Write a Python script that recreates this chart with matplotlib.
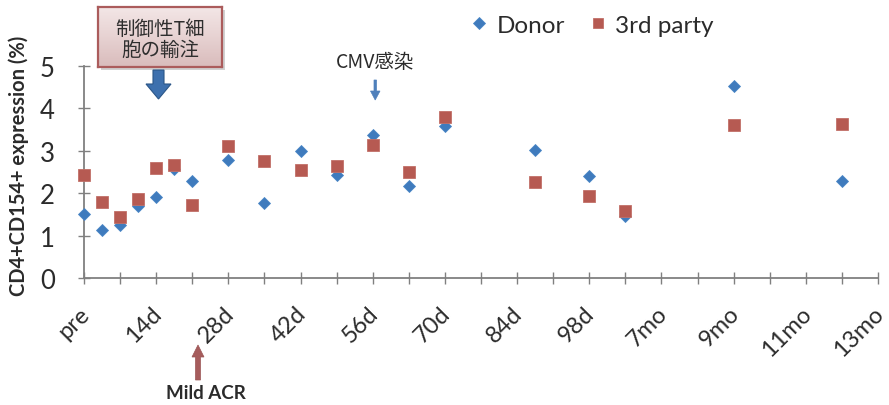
import matplotlib
matplotlib.use("Agg")
import matplotlib.pyplot as plt
import numpy as np
from matplotlib.transforms import Affine2D, ScaledTranslation
from matplotlib.patches import Polygon, Rectangle

# ---- data -------------------------------------------------------------
# time axis: one unit per week, labels on every second unit
timepoints = [0, 0.5, 1, 1.5, 2, 2.5, 3, 4, 5, 6, 7, 8, 9, 10, 12.5, 14, 15, 18, 21]
donor = [1.51, 1.14, 1.26, 1.70, 1.90, 2.57, 2.28, 2.79, 1.77, 2.99,
         2.43, 3.38, 2.16, 3.59, 3.02, 2.41, 1.46, 4.53, 2.29]
third_party = [2.43, 1.80, 1.45, 1.86, 2.59, 2.67, 1.71, 3.11, 2.75, 2.55,
               2.63, 3.14, 2.49, 3.79, 2.26, 1.93, 1.58, 3.61, 3.63]
tick_labels = ["pre", "14d", "28d", "42d", "56d", "70d", "84d", "98d",
               "7mo", "9mo", "11mo", "13mo"]
series_names = ["Donor", "3rd party"]

DONOR_C = "#3f7bbd"
THIRD_C = "#b65a52"
AXIS_C = "#808080"
TEXT_C = "#2b2b2b"
LATIN = ["Lato", "DejaVu Sans"]
CJK = ["Noto Sans CJK JP", "DejaVu Sans"]

W, H = 889, 406
fig = plt.figure(figsize=(W / 100, H / 100), dpi=100)
fig.patch.set_facecolor("white")
# pixel coordinates measured from the top-left corner of the figure
PX = Affine2D().scale(1 / W, -1 / H).translate(0, 1) + fig.transFigure

ax = fig.add_axes([84 / W, 1 - 279 / H, (878 - 84) / W, (279 - 67) / H])
ax.set_xlim(0, 22)
ax.set_ylim(0, 5)

ax.plot(timepoints, donor, linestyle="none", marker="D", ms=6.3,
        color=DONOR_C, mec="#4a86c6", mew=0.6, label=series_names[0],
        clip_on=False, zorder=3)
ax.plot(timepoints, third_party, linestyle="none", marker="s", ms=8.6,
        color=THIRD_C, mec="#c27068", mew=0.6, label=series_names[1],
        clip_on=False, zorder=4)

for side in ("top", "right"):
    ax.spines[side].set_visible(False)
for side in ("left", "bottom"):
    ax.spines[side].set_color(AXIS_C)
    ax.spines[side].set_linewidth(1.3)

ax.set_yticks(np.arange(0, 6, 1))
ax.set_xticks(np.arange(0, 23, 1))
xlabels = [""] * 23
for i, lab in enumerate(tick_labels):
    xlabels[2 * i] = lab
ax.set_xticklabels(xlabels)
ax.tick_params(axis="both", direction="inout", length=8, width=1.0,
               color=AXIS_C, labelcolor=TEXT_C)
ax.tick_params(axis="y", pad=17, labelsize=18.5)
ax.tick_params(axis="x", pad=19, labelsize=17)
for lab in ax.get_yticklabels():
    lab.set_family(LATIN)
shift_right = ScaledTranslation(2 / 100, 0, fig.dpi_scale_trans)
for lab in ax.get_xticklabels():
    lab.set_family(LATIN)
    lab.set_rotation(45)
    lab.set_ha("right")
    lab.set_va("center")
    lab.set_rotation_mode("anchor")
    lab.set_transform(lab.get_transform() + shift_right)

fig.text(19, 166, "CD4+CD154+ expression (%)", transform=PX, rotation=90,
         ha="center", va="center", fontsize=14.5, fontweight="bold",
         family=LATIN, color=TEXT_C)

leg = ax.legend(loc="center left", bbox_to_anchor=(449 / W, 1 - 26 / H),
                bbox_transform=fig.transFigure, ncol=2, frameon=False,
                handlelength=0.7, handletextpad=0.35,
                columnspacing=1.0, markerscale=0.9,
                prop={"family": LATIN, "size": 17.5})
for t in leg.get_texts():
    t.set_color(TEXT_C)

# ---- regulatory T-cell infusion box with its block arrow ----------------
fig.add_artist(Rectangle((101, 11), 124, 60, transform=PX, facecolor="#9a9a9a",
                         edgecolor="none", alpha=0.45, zorder=5))
box_ax = fig.add_axes([98 / W, 1 - 68 / H, 124 / W, 60 / H], zorder=6)
grad = np.linspace(0, 1, 64)[:, None]
box_cmap = matplotlib.colors.LinearSegmentedColormap.from_list(
    "boxfill", ["#f3e6e6", "#e7d2d2", "#d9bcbc"])
box_ax.imshow(grad, aspect="auto", cmap=box_cmap, extent=(0, 1, 0, 1))
box_ax.set_xticks([])
box_ax.set_yticks([])
for sp in box_ax.spines.values():
    sp.set_color("#ab5c5c")
    sp.set_linewidth(1.6)
box_ax.text(0.5, 0.64, "制御性T細", transform=box_ax.transAxes, ha="center",
            va="center", fontsize=14, family=CJK, color="#2e2e2e")
box_ax.text(0.5, 0.29, "胞の輸注", transform=box_ax.transAxes, ha="center",
            va="center", fontsize=14, family=CJK, color="#2e2e2e")

fig.add_artist(Polygon([(153, 71), (164, 71), (164, 85), (171, 85), (158.5, 100),
                        (146, 85), (153, 85)], closed=True, transform=PX,
                       facecolor="#3d70ae", edgecolor="#2b5688", lw=0.8, zorder=7))

# ---- CMV infection marker ---------------------------------------------
fig.text(375, 62, "CMV感染", transform=PX, ha="center", va="center",
         fontsize=14, family=CJK, color=TEXT_C)
fig.add_artist(Polygon([(374, 81), (376.5, 81), (376.5, 92), (380, 92), (375.2, 101),
                        (370.5, 92), (374, 92)], closed=True, transform=PX,
                       facecolor="#4f80bb", edgecolor="#4f80bb", lw=0.5, zorder=7))

# ---- mild acute cellular rejection marker ------------------------------
fig.add_artist(Polygon([(195.5, 381), (200.5, 381), (200.5, 358), (204, 358), (198, 346),
                        (192, 358), (195.5, 358)], closed=True, transform=PX,
                       facecolor="#a65c5c", edgecolor="#9a5555", lw=0.5, zorder=7))
fig.text(206, 394, "Mild ACR", transform=PX, ha="center", va="center",
         fontsize=13.5, fontweight="bold", family=LATIN, color=TEXT_C)

fig.savefig("out.png", dpi=100, facecolor="white")
